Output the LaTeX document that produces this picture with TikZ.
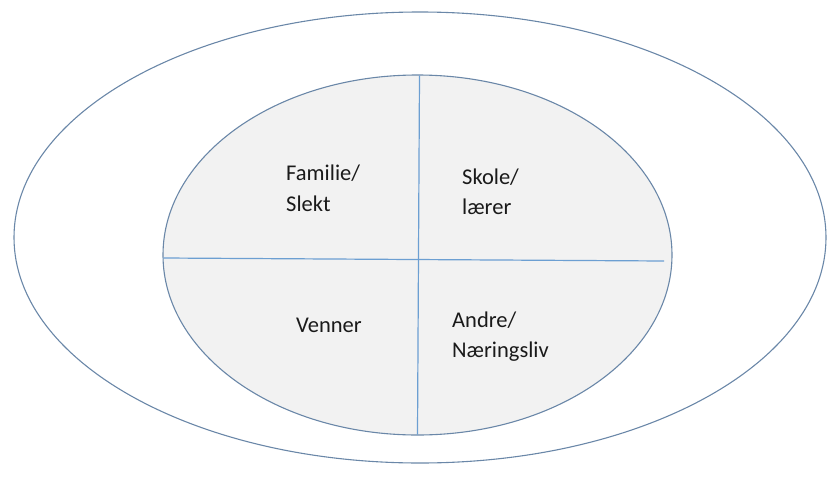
\documentclass[tikz,border=0pt]{standalone}
\usepackage{fontspec}
\setmainfont{Carlito}
\usetikzlibrary{shapes.geometric}
\definecolor{ringblue}{HTML}{6A87A8}
\definecolor{splitblue}{HTML}{6C9FD2}
\definecolor{sectorfill}{HTML}{F2F2F2}
\definecolor{labelink}{HTML}{1A1A1A}
\tikzset{
  ring/.style={draw=ringblue, line width=1.1pt},
  divider/.style={draw=splitblue, line width=1.2pt},
  label/.style={anchor=base west, inner sep=0pt, text=labelink,
                font=\fontsize{22.5}{26}\selectfont}
}
\begin{document}
\begin{tikzpicture}[x=1pt, y=-1pt]
  \useasboundingbox (0,0) rectangle (828,493);
  % outer ring
  \draw[ring] (420,237.5) ellipse [x radius=406, y radius=225.5];
  % inner disc, split into four sectors
  \draw[ring, fill=sectorfill] (417.5,255) ellipse [x radius=254.5, y radius=180];
  \coordinate (vtop) at (419.5,75.5);
  \coordinate (vbot) at (417.5,434.5);
  \coordinate (hleft) at (163.5,258);
  \coordinate (hright) at (664,261);
  \draw[divider] (vtop) -- (vbot);
  \draw[divider] (hleft) -- (hright);
  % sector labels
  \node[label] (fam1) at (286,180.5) {Familie/};
  \node[label] (fam2) at (286,211.5) {Slekt};
  \node[label] (sko1) at (462,184) {Skole/};
  \node[label] (sko2) at (462,214) {lærer};
  \node[label] (ven)  at (296,332) {Venner};
  \node[label] (and1) at (452,327) {Andre/};
  \node[label] (and2) at (452,357) {Næringsliv};
\end{tikzpicture}
\end{document}
